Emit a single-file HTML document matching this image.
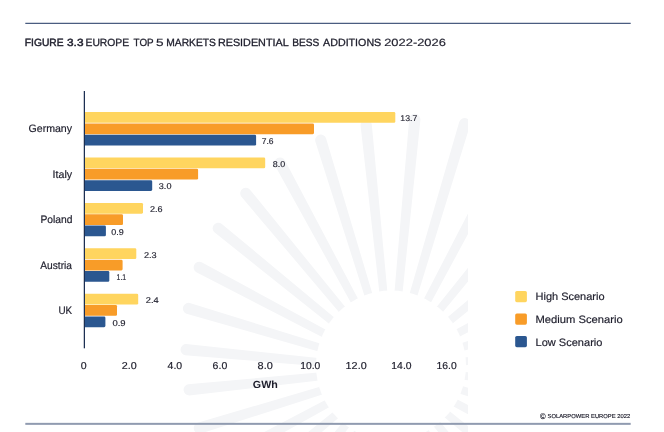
<!DOCTYPE html>
<html><head><meta charset="utf-8"><title>Figure 3.3</title>
<style>
html,body{margin:0;padding:0;background:#fff}
#c{position:relative;width:664px;height:432px;overflow:hidden;background:#fff}
svg{position:absolute;left:0;top:0}
.tx{font-family:"Liberation Sans",sans-serif;fill:#1d1d2b;stroke:#1d1d2b;stroke-width:0;text-rendering:geometricPrecision}
.t{stroke-width:.3px}.tb{stroke-width:.45px}.td{stroke-width:.15px}.v{stroke-width:.15px}.y{stroke-width:.15px}.c,.l,.k{stroke-width:.18px}
</style></head><body>
<div id="c">
<svg width="664" height="432" viewBox="0 0 664 432" class="tx">
<clipPath id="cp"><rect x="0" y="0" width="468" height="432"/></clipPath>
<path fill="#f4f5f7" clip-path="url(#cp)" d="M393.8 431.1L419.8 701.1A5.6 5.6 0 0 0 431.0 700.0L401.5 430.3ZM405.8 429.4L482.5 683.9A5.6 5.6 0 0 0 493.2 680.6L413.3 427.1ZM417.3 425.4L539.5 655.2A5.6 5.6 0 0 0 549.4 649.9L424.2 421.7ZM427.8 419.2L589.0 616.6A5.6 5.6 0 0 0 597.6 609.4L433.8 414.3ZM436.9 411.1L629.2 569.8A5.6 5.6 0 0 0 636.3 561.1L441.9 405.1ZM444.3 401.4L659.0 516.9A5.6 5.6 0 0 0 664.2 507.0L447.9 394.5ZM449.6 390.5L677.4 460.3A5.6 5.6 0 0 0 680.6 449.5L451.8 383.0ZM452.7 378.7L684.2 402.2A5.6 5.6 0 0 0 685.3 391.0L453.4 370.9ZM453.4 366.5L679.6 345.0A5.6 5.6 0 0 0 678.4 333.8L452.6 358.8ZM451.7 354.5L664.1 290.8A5.6 5.6 0 0 0 660.8 280.1L449.4 347.0ZM447.7 343.0L638.7 241.7A5.6 5.6 0 0 0 633.4 231.9L444.0 336.1ZM441.5 332.5L604.9 199.4A5.6 5.6 0 0 0 597.8 190.8L436.6 326.5ZM433.4 323.4L564.2 165.3A5.6 5.6 0 0 0 555.5 158.2L427.4 318.4ZM423.7 316.0L518.6 140.3A5.6 5.6 0 0 0 508.7 135.1L416.8 312.4ZM412.8 310.7L470.0 125.2A5.6 5.6 0 0 0 459.2 122.0L405.3 308.5ZM401.0 307.6L420.4 120.0A5.6 5.6 0 0 0 409.2 118.9L393.2 306.9ZM388.8 306.9L371.8 124.6A5.6 5.6 0 0 0 360.6 125.7L381.1 307.7ZM376.8 308.6L326.1 138.4A5.6 5.6 0 0 0 315.4 141.7L369.3 310.9ZM365.3 312.6L285.0 160.4A5.6 5.6 0 0 0 275.1 165.7L358.4 316.3ZM354.8 318.8L249.8 189.4A5.6 5.6 0 0 0 241.2 196.5L348.8 323.7ZM345.7 326.9L221.8 223.9A5.6 5.6 0 0 0 214.7 232.6L340.7 332.9ZM338.3 336.6L201.6 262.3A5.6 5.6 0 0 0 196.4 272.2L334.7 343.5ZM333.0 347.5L189.7 303.0A5.6 5.6 0 0 0 186.5 313.7L330.8 355.0ZM329.9 359.3L186.2 344.1A5.6 5.6 0 0 0 185.1 355.2L329.2 367.1ZM329.2 371.5L188.1 384.3A5.6 5.6 0 0 0 189.2 395.4L330.0 379.2ZM330.9 383.5L197.6 422.8A5.6 5.6 0 0 0 200.9 433.5L333.2 391.0ZM334.9 395.0L214.3 458.2A5.6 5.6 0 0 0 219.7 468.1L338.6 401.9ZM341.1 405.5L237.3 489.2A5.6 5.6 0 0 0 244.4 497.9L346.0 411.5ZM349.2 414.6L265.5 514.8A5.6 5.6 0 0 0 274.2 521.9L355.2 419.6ZM358.9 422.0L297.7 534.0A5.6 5.6 0 0 0 307.6 539.3L365.8 425.6ZM369.8 427.3L332.5 546.4A5.6 5.6 0 0 0 343.2 549.6L377.3 429.5ZM381.6 430.4L368.5 551.7A5.6 5.6 0 0 0 379.6 552.8L389.4 431.1Z"/>
<circle cx="391" cy="365.5" r="75" fill="#fff" stroke="none"/>
<rect x="25.3" y="22.75" width="605.4" height="1.25" fill="#4a5d80" stroke="none"/>
<rect x="25.3" y="422.85" width="605.4" height="2.0" fill="#909bb0" stroke="none"/>
<g stroke="none">
<path fill="#ffd55f" d="M84.50 112.05H394.00Q395.30 112.05 395.30 113.35V121.50Q395.30 122.80 394.00 122.80H84.50Z"/><path fill="#f89c28" d="M84.50 123.38H312.70Q314.00 123.38 314.00 124.68V132.83Q314.00 134.13 312.70 134.13H84.50Z"/><path fill="#2b5790" d="M84.50 134.71H254.80Q256.10 134.71 256.10 136.01V144.16Q256.10 145.46 254.80 145.46H84.50Z"/><path fill="#ffd55f" d="M84.50 157.47H263.90Q265.20 157.47 265.20 158.77V166.92Q265.20 168.22 263.90 168.22H84.50Z"/><path fill="#f89c28" d="M84.50 168.80H196.80Q198.10 168.80 198.10 170.10V178.25Q198.10 179.55 196.80 179.55H84.50Z"/><path fill="#2b5790" d="M84.50 180.13H150.90Q152.20 180.13 152.20 181.43V189.58Q152.20 190.88 150.90 190.88H84.50Z"/><path fill="#ffd55f" d="M84.50 202.89H141.70Q143.00 202.89 143.00 204.19V212.34Q143.00 213.64 141.70 213.64H84.50Z"/><path fill="#f89c28" d="M84.50 214.22H121.70Q123.00 214.22 123.00 215.52V223.67Q123.00 224.97 121.70 224.97H84.50Z"/><path fill="#2b5790" d="M84.50 225.55H104.60Q105.90 225.55 105.90 226.85V235.00Q105.90 236.30 104.60 236.30H84.50Z"/><path fill="#ffd55f" d="M84.50 248.31H135.00Q136.30 248.31 136.30 249.61V257.76Q136.30 259.06 135.00 259.06H84.50Z"/><path fill="#f89c28" d="M84.50 259.64H121.30Q122.60 259.64 122.60 260.94V269.09Q122.60 270.39 121.30 270.39H84.50Z"/><path fill="#2b5790" d="M84.50 270.97H108.00Q109.30 270.97 109.30 272.27V280.42Q109.30 281.72 108.00 281.72H84.50Z"/><path fill="#ffd55f" d="M84.50 293.73H136.90Q138.20 293.73 138.20 295.03V303.18Q138.20 304.48 136.90 304.48H84.50Z"/><path fill="#f89c28" d="M84.50 305.06H115.70Q117.00 305.06 117.00 306.36V314.51Q117.00 315.81 115.70 315.81H84.50Z"/><path fill="#2b5790" d="M84.50 316.39H104.10Q105.40 316.39 105.40 317.69V325.84Q105.40 327.14 104.10 327.14H84.50Z"/><rect x="515.2" y="291.0" width="11.7" height="11.2" rx="1.6" fill="#ffd55f"/><rect x="515.2" y="313.5" width="11.7" height="11.2" rx="1.6" fill="#f89c28"/><rect x="515.2" y="336.0" width="11.7" height="11.2" rx="1.6" fill="#2b5790"/>
<rect x="83.75" y="91" width="1.25" height="257.3" fill="#1c2f52"/>
</g>
<text y="46"><tspan x="24.80" textLength="38.73" lengthAdjust="spacingAndGlyphs" font-size="10.47" class="tb">FIGURE</tspan> <tspan x="67.03" textLength="16.45" lengthAdjust="spacingAndGlyphs" font-size="10.47" class="tb">3.3</tspan> <tspan x="85.49" textLength="43.64" lengthAdjust="spacingAndGlyphs" font-size="10.47" class="t">EUROPE</tspan> <tspan x="133.55" textLength="20.07" lengthAdjust="spacingAndGlyphs" font-size="10.47" class="t">TOP</tspan> <tspan x="156.07" textLength="7.58" lengthAdjust="spacingAndGlyphs" font-size="10.47" class="td">5</tspan> <tspan x="166.30" textLength="49.63" lengthAdjust="spacingAndGlyphs" font-size="10.47" class="t">MARKETS</tspan> <tspan x="217.96" textLength="70.71" lengthAdjust="spacingAndGlyphs" font-size="10.47" class="t">RESIDENTIAL</tspan> <tspan x="292.21" textLength="27.02" lengthAdjust="spacingAndGlyphs" font-size="10.47" class="t">BESS</tspan> <tspan x="323.10" textLength="58.15" lengthAdjust="spacingAndGlyphs" font-size="10.47" class="t">ADDITIONS</tspan> <tspan x="384.19" textLength="61.73" lengthAdjust="spacingAndGlyphs" font-size="10.47" class="td">2022-2026</tspan></text>
<text transform="translate(28.50,132) scale(0.985,1)" font-size="10.76" class="c">Germany</text><text transform="translate(400.35,121) scale(1.036,1)" font-size="8.43" class="v">13.7</text><text transform="translate(261.70,144) scale(1.011,1)" font-size="8.43" class="v">7.6</text><text transform="translate(52.57,178) scale(0.990,1)" font-size="10.76" class="c">Italy</text><text transform="translate(272.82,167) scale(1.058,1)" font-size="8.43" class="v">8.0</text><text transform="translate(158.82,189) scale(1.076,1)" font-size="8.43" class="v">3.0</text><text transform="translate(40.40,223) scale(0.958,1)" font-size="10.76" class="c">Poland</text><text transform="translate(149.98,212) scale(1.074,1)" font-size="8.43" class="v">2.6</text><text transform="translate(111.22,235) scale(1.062,1)" font-size="8.43" class="v">0.9</text><text transform="translate(40.30,269) scale(0.948,1)" font-size="10.76" class="c">Austria</text><text transform="translate(143.97,258) scale(1.084,1)" font-size="8.43" class="v">2.3</text><text transform="translate(116.57,280) scale(0.820,1)" font-size="8.43" class="v">1.1</text><text transform="translate(58.48,314) scale(0.918,1)" font-size="10.76" class="c">UK</text><text transform="translate(145.87,303) scale(1.098,1)" font-size="8.43" class="v">2.4</text><text transform="translate(112.40,326) scale(1.125,1)" font-size="8.43" class="v">0.9</text><text transform="translate(80.87,369) scale(1.057,1)" font-size="10.03" class="k">0</text><text transform="translate(121.80,369) scale(1.074,1)" font-size="10.03" class="k">2.0</text><text transform="translate(167.54,369) scale(1.049,1)" font-size="10.03" class="k">4.0</text><text transform="translate(212.61,369) scale(1.051,1)" font-size="10.03" class="k">6.0</text><text transform="translate(257.56,369) scale(1.091,1)" font-size="10.03" class="k">8.0</text><text transform="translate(300.25,369) scale(1.030,1)" font-size="10.03" class="k">10.0</text><text transform="translate(345.62,369) scale(1.078,1)" font-size="10.03" class="k">12.0</text><text transform="translate(391.35,369) scale(1.035,1)" font-size="10.03" class="k">14.0</text><text transform="translate(436.55,369) scale(1.035,1)" font-size="10.03" class="k">16.0</text><text transform="translate(252.87,388) scale(1.022,1)" font-size="10.47" font-weight="bold" class="g">GWh</text><text transform="translate(535.54,300) scale(1.029,1)" font-size="10.68" class="l">High Scenario</text><text transform="translate(535.52,323) scale(1.050,1)" font-size="10.68" class="l">Medium Scenario</text><text transform="translate(535.54,346) scale(1.034,1)" font-size="10.68" class="l">Low Scenario</text>
<text><tspan x="540.00" y="419" textLength="5.62" lengthAdjust="spacingAndGlyphs" font-size="8.28" class="y">©</tspan> <tspan x="547.54" y="418" textLength="82.74" lengthAdjust="spacingAndGlyphs" font-size="5.67" class="y">SOLARPOWER EUROPE 2022</tspan></text>
</svg>
</div>
</body></html>
